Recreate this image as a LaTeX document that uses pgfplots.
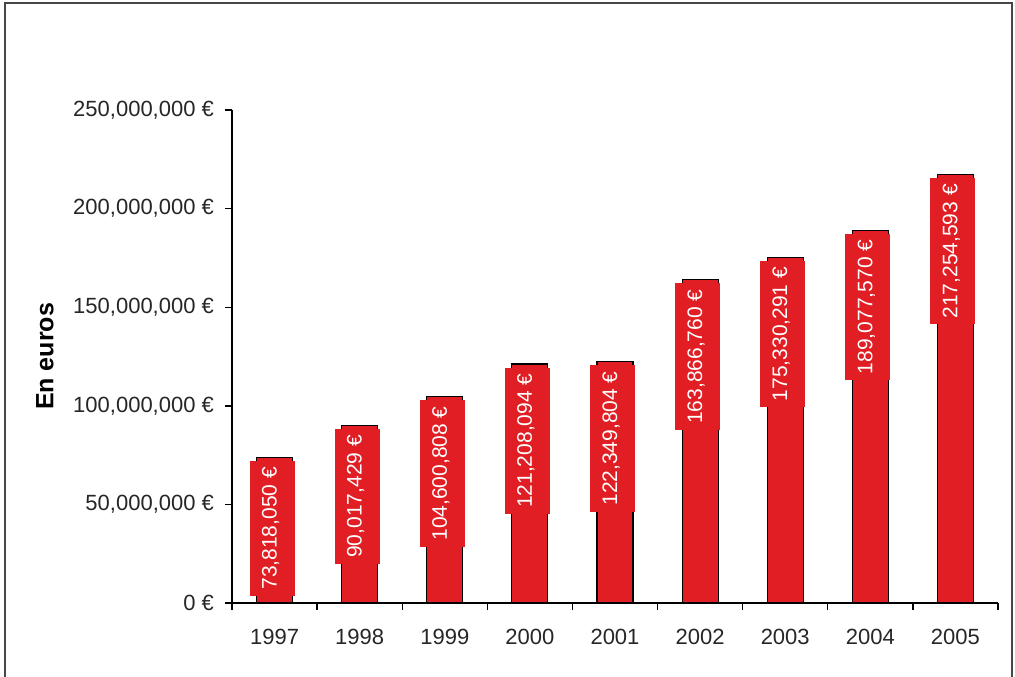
\documentclass[border=0pt]{standalone}
\usepackage{fontspec}
\setmainfont{Liberation Sans}
\usepackage{pgfplots}
\pgfplotsset{compat=1.18}
\usepackage{pgfplotstable}
\definecolor{barred}{RGB}{224,30,36}
\definecolor{framegray}{RGB}{70,70,70}
\pgfplotstableread{
x y label
0 73818050 73,818,050
1 90017429 90,017,429
2 104600808 104,600,808
3 121208094 121,208,094
4 122349804 122,349,804
5 163866760 163,866,760
6 175330291 175,330,291
7 189077570 189,077,570
8 217254593 217,254,593
}\datatable
\begin{document}
\begin{tikzpicture}
\useasboundingbox (-116pt,-36.5pt) rectangle (391.5pt,301.5pt);
\begin{axis}[
  at={(0pt,0pt)}, anchor=south west,
  scale only axis, width=383pt, height=246.5pt,
  xmin=-0.5, xmax=8.5, ymin=0, ymax=250000000,
  axis x line=bottom, axis y line=left,
  axis line style={-, black, line width=0.7pt},
  ybar, bar width=18pt,
  xtick={0,...,8},
  xticklabels={1997,1998,1999,2000,2001,2002,2003,2004,2005},
  minor xtick={-0.5,0.5,...,8.5},
  major x tick style={draw=none},
  minor x tick style={black, line width=0.7pt},
  major y tick style={black, line width=0.7pt},
  tick align=outside,
  major tick length=3.5pt, minor tick length=3.5pt,
  ytick={0,50000000,100000000,150000000,200000000,250000000},
  yticklabels={0 €,{50,000,000 €},{100,000,000 €},{150,000,000 €},{200,000,000 €},{250,000,000 €}},
  scaled y ticks=false,
  tick label style={font=\fontsize{11}{13}\selectfont, text=black!85},
  xticklabel style={yshift=-6pt},
  yticklabel style={xshift=-2pt},
  ylabel={En euros},
  ylabel style={font=\fontsize{12.5}{15}\selectfont\bfseries, at={(axis description cs:-0.2441,0.5)}, anchor=center},
  point meta=explicit symbolic,
  nodes near coords={\pgfplotspointmeta\ €},
  every node near coord/.append style={
    font=\fontsize{10.5}{12}\selectfont, text=white, fill=barred,
    xshift=-1.25pt, yshift=-1.5pt, rotate=90, anchor=east,
    inner xsep=3pt, inner ysep=6pt, text height=7.5pt, text depth=3pt},
  clip=false,
]
\addplot[fill=barred, draw=black, line width=0.6pt] table[x=x, y=y, meta=label] {\datatable};
\end{axis}
\draw[framegray, line width=1.3pt] (-113.5pt,-40pt) -- (-113.5pt,300pt) -- (390pt,300pt) -- (390pt,-40pt);
\end{tikzpicture}
\end{document}
